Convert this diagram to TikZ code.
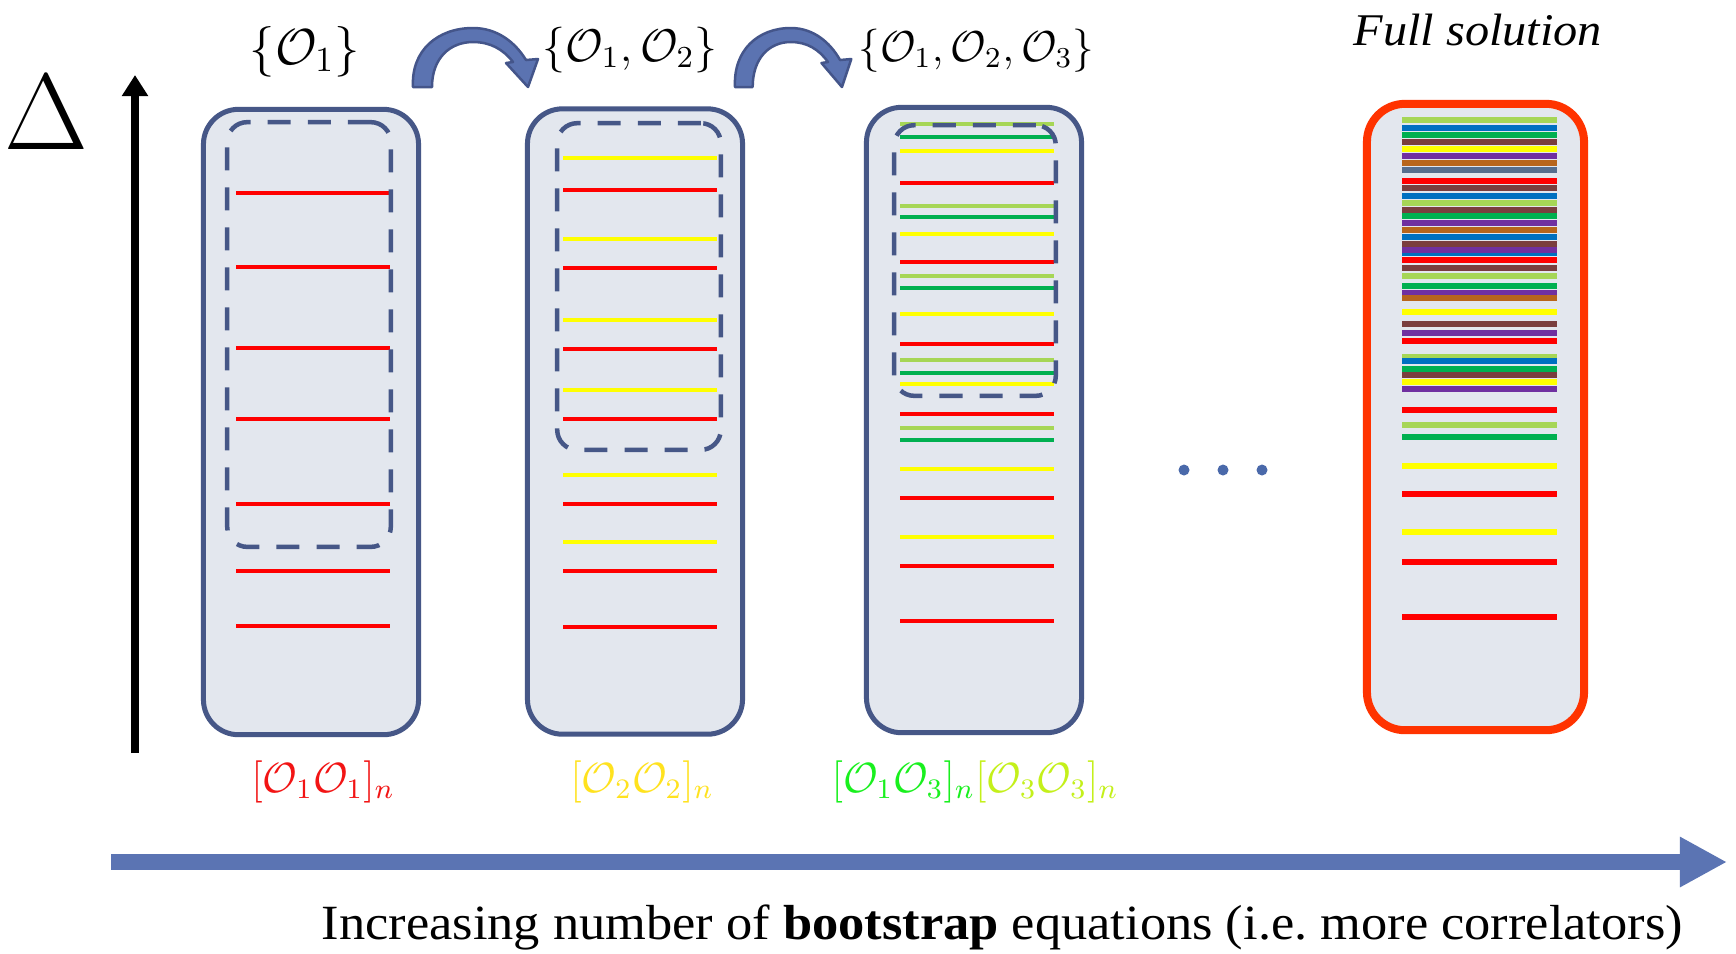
\documentclass[tikz,border=0pt]{standalone}
\usepackage[no-math]{fontspec}
\newfontfamily\palfont[FakeStretch=1.065]{Liberation Serif}
\usetikzlibrary{arrows.meta}

\definecolor{boxedge}{HTML}{465787}
\definecolor{boxfill}{HTML}{E3E7EE}
\definecolor{fulledge}{HTML}{FF3300}
\definecolor{bendfill}{HTML}{5B73B1}
\definecolor{bendedge}{HTML}{44558A}
\definecolor{axisblue}{HTML}{5B74B3}
\definecolor{dotblue}{HTML}{4A69AA}
\definecolor{lvR}{HTML}{FF0000}
\definecolor{lvY}{HTML}{FFFF00}
\definecolor{lvLG}{HTML}{A6D656}
\definecolor{lvG}{HTML}{00B050}
\definecolor{lvBl}{HTML}{0070C0}
\definecolor{lvBr}{HTML}{7A3E3E}
\definecolor{lvPu}{HTML}{7030A0}
\definecolor{lvOr}{HTML}{B8651B}
\definecolor{lvSl}{HTML}{566E8E}
\definecolor{labR}{HTML}{F21414}
\definecolor{labY}{HTML}{FFE21F}
\definecolor{labG}{HTML}{19F01E}
\definecolor{labYG}{HTML}{C4F01A}

\tikzset{
  column/.style={draw=boxedge, fill=boxfill, line width=0.05cm, rounded corners=0.35cm,
    minimum width=2.15cm, minimum height=6.25cm, inner sep=0pt},
  window/.style={draw=boxedge, line width=0.045cm, dash pattern=on 0.23cm off 0.17cm,
    rounded corners=0.2cm, inner sep=0pt},
  level/.style={line width=0.045cm},
  fatlevel/.style={line width=0.055cm},
  lbl/.style={inner sep=0pt, anchor=base},
  steparrow/.style={fill=bendfill, draw=bendedge, line width=0.025cm, line join=round},
}

% curved block arrow, left foot at x = 413
\newcommand\curvedstep[1]{%
  \path[steparrow, #1] (432,87) -- (413,87)
    .. controls (411,50) and (438,28) .. (473,28)
    .. controls (497,28) and (515,42) .. (526,60)
    -- (538,59) -- (528,87) -- (506,63) -- (513,62)
    .. controls (503,49) and (490,42) .. (473,42)
    .. controls (450,42) and (432,58) .. (432,87) -- cycle;}

\begin{document}
\begin{tikzpicture}[x=0.01cm, y=-0.01cm]
\useasboundingbox (0,0) rectangle (1736,953);
\fill[white] (0,0) rectangle (1736,953);

% vertical axis and its label
\coordinate (v0) at (135,753);
\coordinate (v1) at (135,75);
\draw[line width=0.07cm, -{Triangle[width=0.25cm,length=0.21cm]}] (v0) -- (v1);
\node[lbl] (delta) at (46,149.5) {\scalebox{1.24}{\fontsize{24.88}{30}\selectfont$\Delta$}};

% columns of levels
\node[column] (b1) at (311,422) {};
\node[column] (b2) at (635,421.5) {};
\node[column] (b3) at (974,420) {};
\node[column, draw=fulledge, line width=0.08cm, rounded corners=0.38cm,
      minimum width=2.17cm, minimum height=6.26cm] (b4) at (1475.5,417) {};

% first column: O1 x O1
\foreach \yy in {193,267,348,419,504,571,626}
  \draw[level, draw=lvR] (236,\yy) -- (390,\yy);

% second column
\foreach \yy/\cc in {158/lvY,190/lvR,239/lvY,268/lvR,320/lvY,349/lvR,390/lvY,419/lvR,
                     475/lvY,504/lvR,542/lvY,571/lvR,627/lvR}
  \draw[level, draw=\cc] (563,\yy) -- (717,\yy);

% third column
\foreach \yy/\cc in {124/lvLG,137/lvG,151/lvY,183/lvR,206/lvLG,217/lvG,234/lvY,262/lvR,
                     276/lvLG,288/lvG,314/lvY,344/lvR,360/lvLG,373/lvG,384/lvY,414/lvR,
                     428/lvLG,440/lvG,469/lvY,498/lvR,537/lvY,566/lvR,621/lvR}
  \draw[level, draw=\cc] (900,\yy) -- (1054,\yy);

% full spectrum
\foreach \yy/\cc in {120/lvLG,128/lvBl,135/lvG,142/lvBr,149/lvY,156/lvPu,163/lvOr,170/lvSl,
                     181/lvR,188/lvBr,196/lvBl,203/lvLG,210/lvBr,216/lvG,223/lvPu,230/lvOr,
                     237/lvBl,244/lvBr,253/lvBl,250/lvPu,260/lvR,268/lvBr,276/lvLG,286/lvG,
                     293/lvPu,298/lvOr,312/lvY,324/lvBr,333/lvPu,341/lvR,357/lvLG,361/lvBl,
                     369/lvG,375/lvBr,382/lvY,389/lvPu,410/lvR,425/lvLG,437/lvG,466/lvY,
                     494/lvR,532/lvY,562/lvR,617/lvR}
  \draw[fatlevel, draw=\cc] (1402,\yy) -- (1557,\yy);

% dashed windows
\node[window, minimum width=1.635cm, minimum height=4.245cm] (d1) at (309,334.5) {};
\node[window, minimum width=1.635cm, minimum height=3.265cm] (d2) at (639,286.5) {};
\node[window, minimum width=1.615cm, minimum height=2.705cm] (d3) at (975,260.5) {};

% curved step arrows
\curvedstep{}
\curvedstep{shift={(735,0)}, xscale=0.93, shift={(-413,0)}}

% operator sets
\node[lbl] (set1) at (305,64) {\fontsize{14.4}{17}\selectfont$\{\mathcal{O}_1\}$};
\node[lbl] (set2) at (630,61) {\scalebox{1.086}{\fontsize{12}{15}\selectfont$\{\mathcal{O}_1,\mathcal{O}_2\}$}};
\node[lbl] (set3) at (976.5,61) {\scalebox{1.025}{\fontsize{12}{15}\selectfont$\{\mathcal{O}_1,\mathcal{O}_2,\mathcal{O}_3\}$}};
\node[lbl, anchor=base west] (full) at (1353,45) {\fontsize{12.9}{16}\palfont\itshape Full solution};

% double-trace families
\node[lbl] (fam1) at (323,792) {\fontsize{12}{15}\selectfont\color{labR}$[\mathcal{O}_1\mathcal{O}_1]_n$};
\node[lbl] (fam2) at (642,792) {\fontsize{12}{15}\selectfont\color{labY}$[\mathcal{O}_2\mathcal{O}_2]_n$};
\node[lbl] (fam3) at (975,792) {\fontsize{12}{15}\selectfont\textcolor{labG}{$[\mathcal{O}_1\mathcal{O}_3]_n$}\textcolor{labYG}{$[\mathcal{O}_3\mathcal{O}_3]_n$}};

% ellipsis
\foreach \xx in {1184,1223,1262}
  \fill[dotblue] (\xx,470) circle (5.5);

% horizontal axis
\coordinate (h0) at (111,862);
\coordinate (h1) at (1727,862);
\draw[axisblue, line width=0.155cm, -{Triangle[width=0.47cm,length=0.47cm]}] (h0) -- (h1);
\node[lbl, anchor=base west] (caption) at (321,939)
  {\fontsize{14}{16}\palfont Increasing number of \textbf{bootstrap} equations (i.e.\ more correlators)};
\end{tikzpicture}
\end{document}
